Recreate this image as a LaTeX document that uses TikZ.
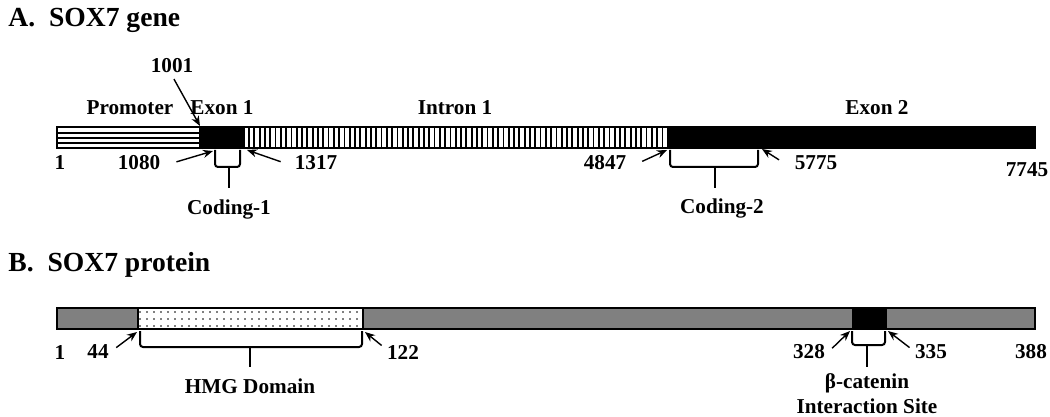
\documentclass[tikz,border=0pt]{standalone}
\usepackage{fontspec}
\setmainfont{Liberation Serif}
\usepackage{tikz}
\usetikzlibrary{calc}
\usetikzlibrary{arrows.meta}
\usetikzlibrary{patterns.meta}

\begin{document}
\begin{tikzpicture}[x = 0.5pt, y = -0.5pt,
	lbl/.style = {font = \fontsize{10.6}{11.5}\selectfont\bfseries, inner sep = 1pt},
	ttl/.style = {font = \fontsize{13.8}{16}\selectfont\bfseries, anchor = west, inner sep = 0pt},
	pointer/.style = {line width = 0.7pt, shorten < = 2pt, -{Stealth[length = 5pt, width = 4pt]}},
	brace/.style = {line width = 1pt, rounded corners = 1.5pt},
	bar/.style = {line width = 1.3pt}]
	\useasboundingbox (0, 0) rectangle (1050, 417);

	% A. gene
	\node[ttl](titleA) at (8, 20){A.\ \ SOX7 gene};

	\fill[white] (57, 127) rectangle (200, 148);
	\foreach \y in {133.3, 138.3, 143.3}
		\draw[line width = 0.9pt] (57, \y)--(200, \y);
	\fill[black] (200, 127) rectangle (245, 148);
	\foreach \x in {249, 254.3, ..., 665}
		\draw[line width = 0.9pt] (\x, 127)--(\x, 148);
	\fill[black] (668, 127) rectangle (1035, 148);
	\draw[bar] (57, 127) rectangle (1035, 148);
	\draw[bar] (200, 127)--(200, 148);
	\draw[bar] (668, 127)--(668, 148);

	\coordinate[](p1001) at (200, 126);
	\coordinate[](p1080) at (213, 151);
	\coordinate[](p1317) at (247, 150);
	\coordinate[](p4847) at (667, 150);
	\coordinate[](p5775) at (762, 149);

	\node[lbl](promoter) at (130, 108){Promoter};
	\node[lbl](exon1) at (222, 108){Exon 1};
	\node[lbl](intron1) at (455, 108){Intron 1};
	\node[lbl](exon2) at (877, 108){Exon 2};

	\node[lbl](n1001) at (172, 66){1001};
	\node[lbl](g1) at (60, 163){1};
	\node[lbl](n1080) at (139, 163){1080};
	\node[lbl](n1317) at (316, 163){1317};
	\node[lbl](n4847) at (605, 163){4847};
	\node[lbl](n5775) at (816, 163){5775};
	\node[lbl](n7745) at (1027, 170){7745};

	\draw[pointer] (n1001.south)--(p1001);
	\draw[pointer] ($(n1080.east)+(10, 0)$)--(p1080);
	\draw[pointer] ($(n1317.west)+(-8, 0)$)--(p1317);
	\draw[pointer] ($(n4847.east)+(10, 0)$)--(p4847);
	\draw[pointer] ($(n5775.west)+(-10, -1)$)--(p5775);

	\draw[brace] (215, 150)--(215, 167)--(240, 167)--(240, 150);
	\draw[brace] (229, 167)--(229, 188);
	\node[lbl](coding1) at (229, 209){Coding-1};
	\draw[brace] (670, 150)--(670, 167)--(758, 167)--(758, 150);
	\draw[brace] (715, 167)--(715, 188);
	\node[lbl](coding2) at (722, 208){Coding-2};

	% B. protein
	\node[ttl](titleB) at (8, 265){B.\ \ SOX7 protein};

	\fill[gray] (57, 308) rectangle (1035, 329);
	\fill[white] (138, 308) rectangle (363, 329);
	\fill[pattern = {Dots[distance = 3.5pt, radius = 0.45pt]}] (138, 308) rectangle (363, 329);
	\fill[black] (852, 308) rectangle (887, 329);
	\draw[bar] (57, 308) rectangle (1035, 329);
	\draw[bar] (138, 308)--(138, 329);
	\draw[bar] (363, 308)--(363, 329);

	\coordinate[](p44) at (137, 332);
	\coordinate[](p122) at (365, 332);
	\coordinate[](p328) at (850, 331);
	\coordinate[](p335) at (888, 331);

	\node[lbl](a1) at (60, 352){1};
	\node[lbl](n44) at (98, 352){44};
	\node[lbl](n122) at (403, 352){122};
	\node[lbl](n328) at (809, 352){328};
	\node[lbl](n335) at (931, 352){335};
	\node[lbl](n388) at (1031, 352){388};

	\draw[pointer] ($(n44.east)+(2, -2)$)--(p44);
	\draw[pointer] ($(n122.west)+(0, -4)$)--(p122);
	\draw[pointer] ($(n328.east)+(2, -1)$)--(p328);
	\draw[pointer] ($(n335.west)+(0, -2)$)--(p335);

	\draw[brace] (140, 331)--(140, 347)--(362, 347)--(362, 331);
	\draw[brace] (250, 347)--(250, 367);
	\node[lbl](hmg) at (250, 386){HMG Domain};
	\draw[brace] (852, 331)--(852, 345)--(885, 345)--(885, 331);
	\draw[brace] (867, 345)--(867, 367);
	\node[lbl](beta) at (867, 383){β-catenin};
	\node[lbl](site) at (867, 406){Interaction Site};
\end{tikzpicture}
\end{document}
